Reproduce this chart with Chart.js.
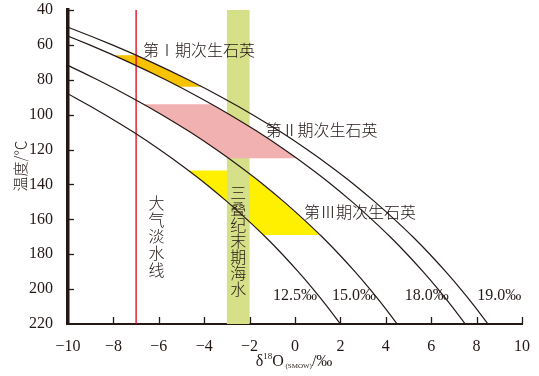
<!DOCTYPE html>
<html>
<head>
<meta charset="utf-8">
<script src="https://cdn.jsdelivr.net/npm/chart.js@4.4.1/dist/chart.umd.min.js"></script>
<style>
  html, body { margin: 0; padding: 0; background: #fff; }
</style>
</head>
<body>
<canvas id="grafico" width="539" height="376"></canvas>
<script>
//Temperaturas (eje Y) y δ18O del agua para cada cuarzo
const temps = [40, 50, 60, 70, 80, 90, 100, 110, 120, 130, 140, 150, 160, 170, 180, 190, 200, 210, 220];
const q125 = [-18.57, -16.47, -14.55, -12.80, -11.20, -9.73, -8.37, -7.12, -5.97, -4.90, -3.90, -2.98, -2.12, -1.31, -0.56, 0.14, 0.80, 1.42, 2.00];
const q150 = [-16.07, -13.97, -12.05, -10.30, -8.70, -7.23, -5.87, -4.62, -3.47, -2.40, -1.40, -0.48, 0.38, 1.19, 1.94, 2.64, 3.30, 3.92, 4.50];
const q180 = [-13.07, -10.97, -9.05, -7.30, -5.70, -4.23, -2.87, -1.62, -0.47, 0.60, 1.60, 2.52, 3.38, 4.19, 4.94, 5.64, 6.30, 6.92, 7.50];
const q190 = [-12.07, -9.97, -8.05, -6.30, -4.70, -3.23, -1.87, -0.62, 0.53, 1.60, 2.60, 3.52, 4.38, 5.19, 5.94, 6.64, 7.30, 7.92, 8.50];
const curveNames = ['12.5‰', '15.0‰', '18.0‰', '19.0‰'];

//Zonas de cuarzo secundario
const stage1X = [-7.0, -6.30, -4.70, -4.11, -5.11, -5.70, -7.30, -8.0];
const stage1T = [66, 70, 80, 84, 84, 80, 70, 66];
const stage2X = [-3.69, -2.87, -1.62, -0.47, 0.07, -2.94, -3.47, -4.62, -5.87, -6.69];
const stage2T = [94, 100, 110, 120, 125, 125, 120, 110, 100, 94];
const stage3X = [-2.20, -1.40, -0.48, 0.38, 1.11, -1.39, -2.12, -2.98, -3.90, -4.70];
const stage3T = [132, 140, 150, 160, 169, 169, 160, 150, 140, 132];

//Agua de mar del Triásico y línea de agua meteórica
const seaX = [-3, -2, -2, -3];
const seaT = [40, 40, 220, 220];
const freshX = [-7, -7];
const freshT = [40, 220];

const ink = '#231815';
const serif = "'Liberation Serif'";
const cjk = "'Noto Sans CJK SC'";
Chart.defaults.font.family = serif;

function puntos(xs, ts) {
  return xs.map((x, i) => ({x: x, y: ts[i]}));
}

let curva = (xs, name) => ({
  label: name, data: puntos(xs, temps), showLine: true, borderColor: ink, borderWidth: 1.2,
  pointRadius: 0, fill: false, cubicInterpolationMode: 'monotone', order: 1
});

let zona = (label, xs, ts, color, orden) => ({
  label: label, data: puntos(xs, ts), showLine: true, borderWidth: 0, borderColor: color,
  backgroundColor: color, pointRadius: 0, fill: 'shape', order: orden
});

//Textos sobre el gráfico
const etiquetas = [
  {t: '第Ⅰ期次生石英', x: -6.7, y: 63},
  {t: '第Ⅱ期次生石英', x: -1.3, y: 109},
  {t: '第Ⅲ期次生石英', x: 0.4, y: 156}
];
const verticales = [
  {t: '大气淡水线', x: -6.1, y: 146, paso: 16.6},
  {t: '三叠纪末期海水', x: -2.5, y: 140, paso: 16.1}
];
const etiquetasCurva = [{x: 0.0}, {x: 2.6}, {x: 5.8}, {x: 9.0}];

const textos = {
  id: 'textos',
  afterDraw(chart) {
    const ctx = chart.ctx, sx = chart.scales.x, sy = chart.scales.y, a = chart.chartArea;
    ctx.save();

    //Marcas hacia dentro
    ctx.strokeStyle = ink;
    ctx.lineWidth = 1.3;
    sx.ticks.forEach(t => {
      if (t.value <= -10) return;
      let px = Math.round(sx.getPixelForValue(t.value)) + 0.5;
      ctx.beginPath(); ctx.moveTo(px, a.bottom); ctx.lineTo(px, a.bottom - 7); ctx.stroke();
    });
    sy.ticks.forEach(t => {
      if (t.value >= 220) return;
      let py = Math.round(sy.getPixelForValue(t.value)) + 0.5;
      ctx.beginPath(); ctx.moveTo(a.left, py); ctx.lineTo(a.left + 6, py); ctx.stroke();
    });

    ctx.fillStyle = ink;
    ctx.font = '300 16px ' + cjk;
    ctx.textAlign = 'left';
    ctx.textBaseline = 'middle';
    etiquetas.forEach(e => {
      ctx.fillText(e.t, sx.getPixelForValue(e.x), sy.getPixelForValue(e.y));
    });

    ctx.textAlign = 'center';
    verticales.forEach(v => {
      let px = sx.getPixelForValue(v.x), py = sy.getPixelForValue(v.y);
      [...v.t].forEach((c, i) => ctx.fillText(c, px, py + v.paso * (i + 0.5)));
    });

    ctx.font = '16px ' + serif;
    etiquetasCurva.forEach((e, i) => {
      ctx.fillText(curveNames[i], sx.getPixelForValue(e.x), sy.getPixelForValue(204));
    });

    //Título eje Y
    ctx.font = '300 15px ' + cjk;
    ctx.translate(20, 166);
    ctx.rotate(-Math.PI / 2);
    ctx.fillText('温度/℃', 0, 0);
    ctx.setTransform(1, 0, 0, 1, 0, 0);

    //Título eje X
    const partes = [
      {t: 'δ', f: '16px ' + serif, dy: 0},
      {t: '18', f: '9px ' + serif, dy: -7},
      {t: 'O', f: '16px ' + serif, dy: 0},
      {t: ' (SMOW)', f: '7px ' + serif, dy: 2},
      {t: '/‰', f: '16px ' + serif, dy: 0}
    ];
    let ancho = 0;
    partes.forEach(p => { ctx.font = p.f; p.w = ctx.measureText(p.t).width; ancho += p.w; });
    let x0 = 294 - ancho / 2;
    ctx.textAlign = 'left';
    ctx.textBaseline = 'alphabetic';
    partes.forEach(p => { ctx.font = p.f; ctx.fillText(p.t, x0, 366 + p.dy); x0 += p.w; });
    ctx.restore();
  }
};

new Chart(document.getElementById('grafico'), {
  type: 'scatter',
  data: {
    datasets: [
      curva(q125, curveNames[0]),
      curva(q150, curveNames[1]),
      curva(q180, curveNames[2]),
      curva(q190, curveNames[3]),
      {label: 'fresh', data: puntos(freshX, freshT), showLine: true, borderColor: '#E60012', borderWidth: 1.3, pointRadius: 0, order: 2},
      zona('I', stage1X, stage1T, '#F7C200', 4),
      zona('II', stage2X, stage2T, '#F2B1B1', 4),
      zona('sea', seaX, seaT, '#D6E088', 5),
      zona('III', stage3X, stage3T, '#FFF000', 6)
    ]
  },
  options: {
    responsive: false,
    devicePixelRatio: 1,
    animation: false,
    layout: {padding: {top: 10, right: 17, left: 0, bottom: 0}},
    plugins: {legend: {display: false}, tooltip: {enabled: false}},
    scales: {
      x: {
        type: 'linear', min: -10, max: 10,
        ticks: {stepSize: 2, color: ink, padding: 5, font: {family: serif, size: 16},
          callback: v => v < 0 ? '−' + Math.abs(v) : '' + v},
        grid: {display: false},
        border: {display: true, color: ink, width: 2},
        afterFit: s => { s.height = 52; s.paddingLeft = 0; s.paddingRight = 0; }
      },
      y: {
        type: 'linear', reverse: true, min: 40, max: 220,
        ticks: {stepSize: 20, color: ink, padding: 7, font: {family: serif, size: 16}},
        grid: {display: false},
        border: {display: true, color: ink, width: 3.5},
        afterFit: s => { s.width = 68; s.paddingTop = 0; s.paddingBottom = 0; }
      }
    }
  },
  plugins: [textos]
});
</script>
</body>
</html>
